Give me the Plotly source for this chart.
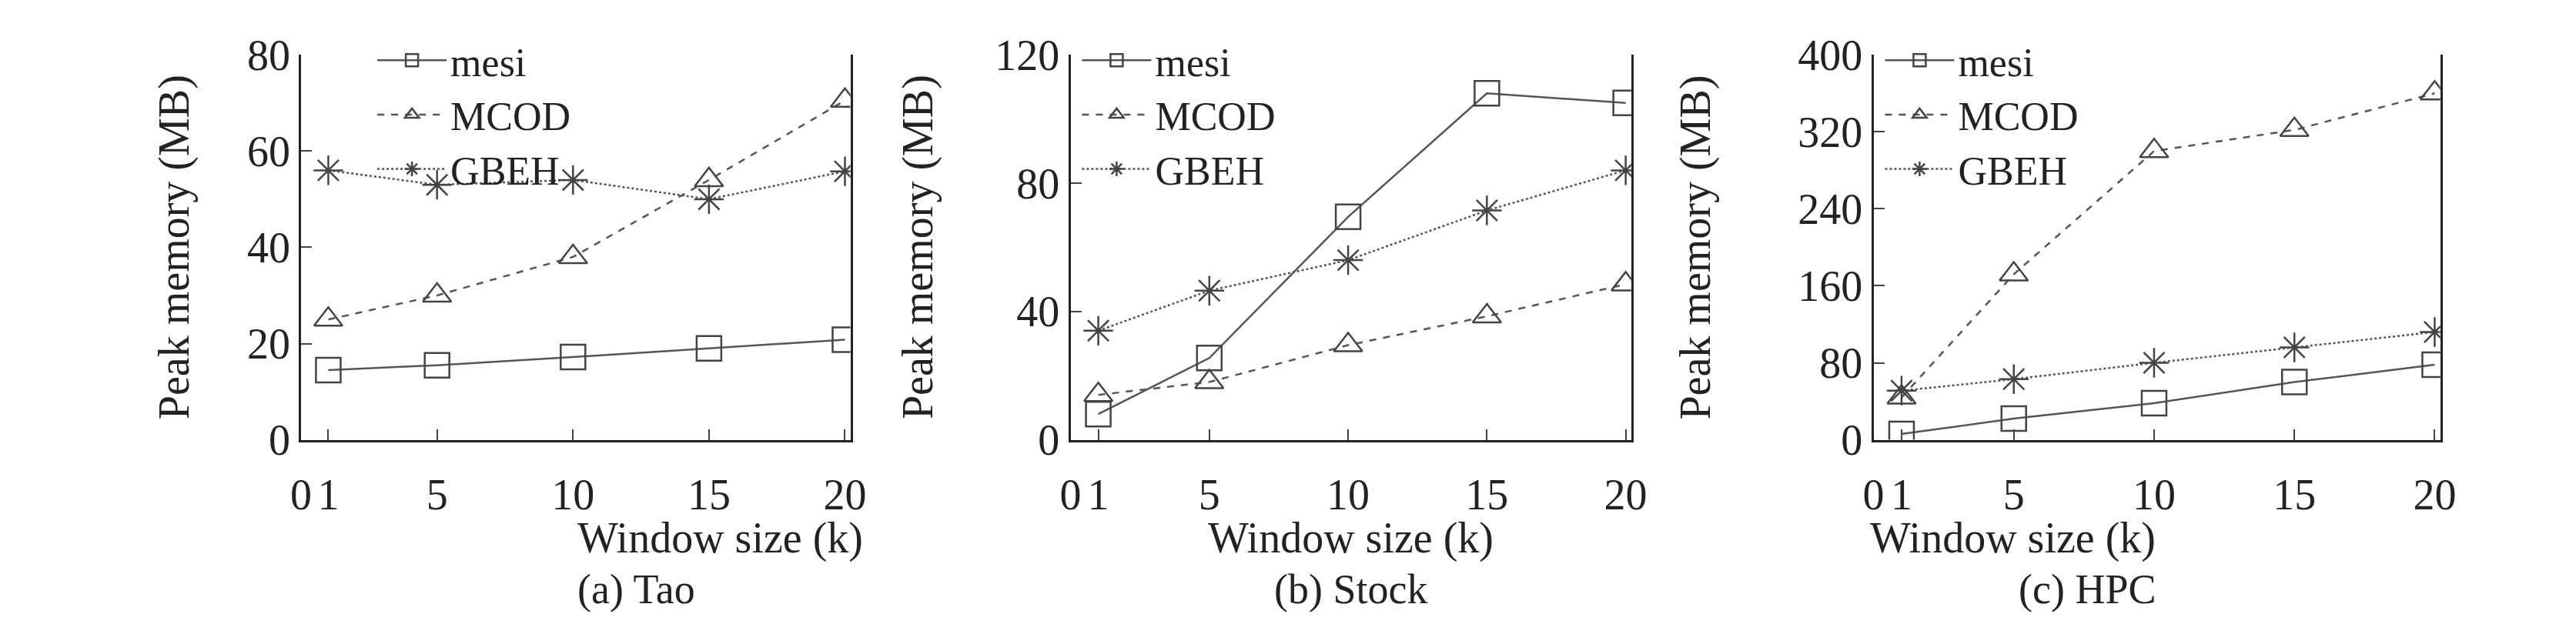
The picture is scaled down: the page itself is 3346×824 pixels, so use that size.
import plotly.graph_objects as go

W, H = 3346, 824

window = [1, 5, 10, 15, 20]
series_names = ["mesi", "MCOD", "GBEH"]

tao_mesi = [14.5, 15.5, 17.2, 19.0, 20.8]
tao_mcod = [25.0, 30.0, 38.0, 54.0, 70.5]
tao_gbeh = [56.0, 53.0, 54.0, 50.0, 55.8]

stock_mesi = [8.0, 25.5, 69.5, 108.0, 105.0]
stock_mcod = [14.0, 18.0, 29.5, 38.5, 48.5]
stock_gbeh = [34.0, 46.5, 56.0, 71.5, 84.0]

hpc_mesi = [6.0, 22.0, 38.0, 60.0, 78.0]
hpc_mcod = [44.0, 172.0, 300.0, 322.0, 360.0]
hpc_gbeh = [51.0, 63.0, 80.0, 96.0, 112.0]

captions = ["(a) Tao", "(b) Stock", "(c) HPC"]
y_ticks = [[0, 20, 40, 60, 80], [0, 40, 80, 120], [0, 80, 160, 240, 320, 400]]
x_ticks = [0, 1, 5, 10, 15, 20]

panels = [
    (tao_mesi, tao_mcod, tao_gbeh),
    (stock_mesi, stock_mcod, stock_gbeh),
    (hpc_mesi, hpc_mcod, hpc_gbeh),
]

# plot-area pixel bounds (left, right) of each panel
px = [(373, 1094), (1383, 2119), (2437, 3181)]
y0, y1 = 1 - 577 / H, 1 - 36 / H

FONT = "Liberation Serif"
styles = [
    dict(dash="solid", symbol="square-open"),
    dict(dash="dash", symbol="triangle-up-open"),
    dict(dash="dot", symbol="asterisk-open"),
]

fig = go.Figure()
layout = dict(width=W, height=H, margin=dict(l=0, r=0, t=0, b=0),
              plot_bgcolor="white", paper_bgcolor="white",
              font=dict(family=FONT, size=54, color="#222"))
annotations = []

for i, (vals, (l, r)) in enumerate(zip(panels, px)):
    n = "" if i == 0 else str(i + 1)
    leg = "legend" if i == 0 else "legend" + str(i + 1)
    for name, v, st in zip(series_names, vals, styles):
        fig.add_trace(go.Scatter(
            x=window, y=v, name=name, mode="lines+markers",
            xaxis="x" + n, yaxis="y" + n, legend=leg,
            line=dict(color="#555", width=2.5, dash=st["dash"]),
            marker=dict(symbol=st["symbol"], size=32, color="#444",
                        line=dict(color="#444", width=2.5)),
        ))
    yt = y_ticks[i]
    layout["xaxis" + n] = dict(
        domain=[l / W, r / W], range=[0, 20.2], anchor="y" + n,
        tickvals=x_ticks, ticks="inside", ticklen=14, tickwidth=2,
        showline=True, linecolor="#222", linewidth=3, showgrid=False,
        zeroline=False, tickfont=dict(size=56), ticklabelstandoff=20)
    layout["yaxis" + n] = dict(
        domain=[y0, y1], range=[0, yt[-1]], anchor="x" + n,
        tickvals=yt, ticks="inside", ticklen=14, tickwidth=2,
        showline=True, mirror=True, linecolor="#222", linewidth=3,
        showgrid=False, zeroline=False, tickfont=dict(size=56))
    layout[leg] = dict(
        x=(l + (95 if i == 0 else 10)) / W, y=1.0, xanchor="left", yanchor="top",
        bgcolor="rgba(0,0,0,0)", font=dict(size=52, color="#222"),
        itemwidth=90, tracegroupgap=0)
    cx = (l + r) / 2 / W
    annotations.append(dict(x=cx, y=1 - 752 / H, xref="paper", yref="paper",
                            text="Window size (k)", showarrow=False,
                            font=dict(size=56)))
    annotations.append(dict(x=cx, y=1 - 822 / H, xref="paper", yref="paper",
                            yanchor="bottom" if False else "auto",
                            text=captions[i], showarrow=False,
                            font=dict(size=54)))
    annotations.append(dict(x=(l - 200) / W, y=(y0 + y1) / 2, xref="paper", yref="paper",
                            text="Peak memory (MB)", showarrow=False, textangle=-90,
                            font=dict(size=56)))

layout["annotations"] = annotations
fig.update_layout(**layout)
fig.write_html("out.html")
